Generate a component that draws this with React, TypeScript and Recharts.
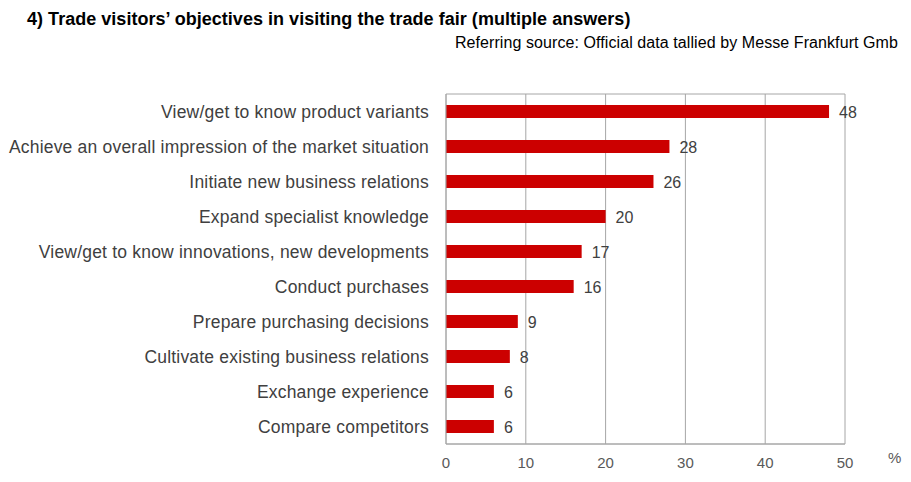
import { BarChart, Bar, XAxis, YAxis, CartesianGrid, LabelList } from "recharts";

const categories = [
  "View/get to know product variants",
  "Achieve an overall impression of the market situation",
  "Initiate new business relations",
  "Expand specialist knowledge",
  "View/get to know innovations, new developments",
  "Conduct purchases",
  "Prepare purchasing decisions",
  "Cultivate existing business relations",
  "Exchange experience",
  "Compare competitors",
];
const shares = [48, 28, 26, 20, 17, 16, 9, 8, 6, 6];
const xTicks = [0, 10, 20, 30, 40, 50];

const data = categories.map((name, i) => ({ name, value: shares[i] }));

const GRID = "#a6a6a6";
const FONT = "'Liberation Sans', Arial, sans-serif";

// value labels sit right of the bar; the one touching the frame is pulled in
const ValueLabel = (props: any) => {
  const { x, y, width, height, value } = props;
  const end = x + width;
  const lx = end + 36 > 890 ? end + 3 : end + 10;
  return (
    <text
      x={lx}
      y={y + height / 2}
      dy={6}
      fontSize={16}
      fill="#404040"
      fontFamily={FONT}
    >
      {value}
    </text>
  );
};

export default function App() {
  return (
    <div
      style={{
        position: "absolute",
        left: 0,
        top: 0,
        width: 911,
        height: 482,
        background: "#fff",
        fontFamily: FONT,
      }}
    >
      <div
        style={{
          position: "absolute",
          left: 27,
          top: 9,
          fontSize: 18,
          lineHeight: "20px",
          fontWeight: "bold",
          color: "#000",
          whiteSpace: "nowrap",
          letterSpacing: 0.03,
        }}
      >
        4) Trade visitors’ objectives in visiting the trade fair (multiple answers)
      </div>
      <div
        style={{
          position: "absolute",
          right: 13,
          top: 34,
          fontSize: 16,
          lineHeight: "18px",
          color: "#000",
          whiteSpace: "nowrap",
          letterSpacing: 0.08,
        }}
      >
        Referring source: Official data tallied by Messe Frankfurt Gmb
      </div>
      <div
        style={{
          position: "absolute",
          left: 888,
          top: 449,
          fontSize: 15,
          color: "#595959",
        }}
      >
        %
      </div>
      <BarChart
        width={911}
        height={482}
        data={data}
        layout="vertical"
        barSize={13}
        margin={{ top: 94, right: 66, bottom: 8, left: 0 }}
      >
        <CartesianGrid
          stroke={GRID}
          horizontalCoordinatesGenerator={({ offset }: any) => [
            offset.top,
            offset.top + offset.height,
          ]}
        />
        <XAxis
          type="number"
          domain={[0, 50]}
          ticks={xTicks}
          tickLine={false}
          axisLine={{ stroke: GRID }}
          tickMargin={7}
          height={30}
          tick={{ fontSize: 15, fill: "#595959", fontFamily: FONT }}
        />
        <YAxis
          type="category"
          dataKey="name"
          width={446}
          tickLine={false}
          axisLine={{ stroke: GRID }}
          tickMargin={11}
          interval={0}
          tick={{
            fontSize: 17.5,
            fill: "#404040",
            fontFamily: FONT,
            letterSpacing: 0.2,
          }}
        />
        <Bar dataKey="value" fill="#cc0000" isAnimationActive={false}>
          <LabelList dataKey="value" content={ValueLabel} />
        </Bar>
      </BarChart>
    </div>
  );
}
